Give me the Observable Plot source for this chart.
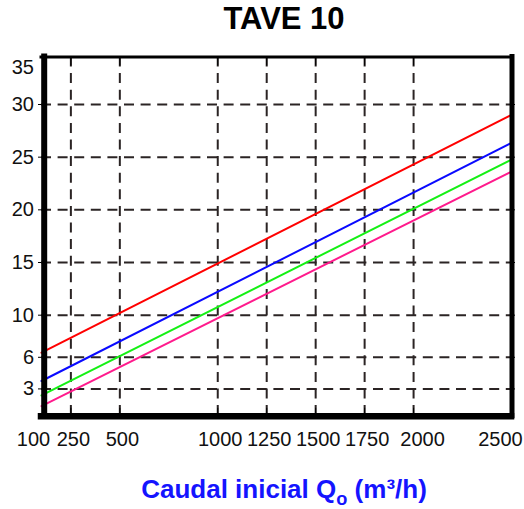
<!DOCTYPE html>
<html>
<head>
<meta charset="utf-8">
<script src="https://cdn.jsdelivr.net/npm/d3@7"></script>
<script src="https://cdn.jsdelivr.net/npm/@observablehq/plot@0.6"></script>
<style>
  html, body { margin: 0; padding: 0; background: #fff; }
  #wrap { width: 524px; font-family: "Liberation Sans", Arial, sans-serif; }
  #title { position: relative; height: 40px; }
  #title span { position: absolute; left: 284px; top: 17.5px; transform: translate(-50%, -50%);
    font-weight: bold; font-size: 31px; line-height: 1; color: #000; white-space: nowrap; }
  #caption { position: relative; height: 49px; }
  #caption span.main { position: absolute; left: 284px; top: 29px; transform: translate(-50%, -50%);
    font-weight: bold; font-size: 26px; line-height: 1; color: #1414ff; white-space: nowrap; }
  #caption .sub { font-size: 0.7em; position: relative; top: 0.4em; }
  #chart svg text { font-size: 20px; font-family: "Liberation Sans", Arial, sans-serif; }
</style>
</head>
<body>
<div id="wrap">
  <div id="title"><span>TAVE 10</span></div>
  <div id="chart"></div>
  <div id="caption"><span class="main">Caudal inicial Q<span class="sub">o</span> (m³/h)</span></div>
</div>
<script>
// ---- data ----
const xDomain = [100, 2500];
const yDomain = [0.4, 30, 36.4];
const xLabels = [100, 250, 500, 1000, 1250, 1500, 1750, 2000, 2500];
const xGrid = [250, 500, 1000, 1250, 1500, 1750, 2000];
const yLabels = [3, 6, 10, 15, 20, 25, 30, 35];
const yGrid = [3, 6, 10, 15, 20, 25, 30];
const qEnds = [100, 2500];
const curve1 = [6.44, 29.02];
const curve2 = [3.75, 26.36];
const curve3 = [2.38, 24.77];
const curve4 = [1.37, 23.63];
const seriesNames = ["curva 1", "curva 2", "curva 3", "curva 4"];
const seriesColors = ["#ff0000", "#0a0aff", "#14f014", "#ff1a8c"];

// ---- build table ----
const seriesVals = [curve1, curve2, curve3, curve4];
const rows = [];
seriesNames.forEach((s, i) => {
  qEnds.forEach((q, j) => rows.push({series: s, q, v: seriesVals[i][j]}));
});

const W = 524, H = 420;
const mTop = 16.5, mBottom = 44.2, mLeft = 41, mRight = 13;
const gridStyle = {stroke: "#2b2424", strokeWidth: 2, strokeDasharray: "10,6.6"};

const labelAxis = (vals, dx) => Plot.axisX(vals, {
  anchor: "bottom", tickSize: 0, tickPadding: 15.9, dx, fontSize: 20, fill: "#111",
  tickFormat: d => String(d), label: null
});

const chart = Plot.plot({
  width: W, height: H,
  marginTop: mTop, marginBottom: mBottom, marginLeft: mLeft, marginRight: mRight,
  style: {fontFamily: "'Liberation Sans', Arial, sans-serif", fontSize: "20px", color: "#111", background: "#fff", overflow: "visible"},
  x: {type: "linear", domain: xDomain, label: null},
  y: {type: "linear", domain: yDomain, range: [H - mBottom, 64, mTop], label: null},
  color: {type: "ordinal", domain: seriesNames, range: seriesColors},
  marks: [
    Plot.ruleY(yGrid, {y: d => d, ...gridStyle}),
    Plot.ruleX(xGrid, {x: d => d, ...gridStyle}),
    Plot.line(rows, {x: "q", y: "v", z: "series", stroke: "series", strokeWidth: 2}),
    // frame
    Plot.ruleX([xDomain[0]], {x: d => d, stroke: "#000", strokeWidth: 6, dx: 2.7, strokeLinecap: "square"}),
    Plot.ruleX([xDomain[1]], {x: d => d, stroke: "#000", strokeWidth: 5, dx: 0.5, strokeLinecap: "square"}),
    Plot.ruleY([yDomain[0]], {y: d => d, stroke: "#000", strokeWidth: 6.5, strokeLinecap: "square"}),
    Plot.ruleY([yDomain[yDomain.length - 1]], {y: d => d, stroke: "#000", strokeWidth: 3, strokeLinecap: "square"}),
    // ticks
    Plot.axisX(xGrid, {anchor: "top", tickSize: -8, fill: "none", stroke: "#000", label: null}),
    Plot.axisX(xGrid, {anchor: "bottom", tickSize: -8, fill: "none", stroke: "#000", label: null}),
    Plot.axisY(yGrid, {anchor: "left", tickSize: 3, fill: "none", stroke: "#000", label: null}),
    Plot.axisY(yGrid, {anchor: "right", tickSize: 3, fill: "none", stroke: "#000", label: null}),
    // labels
    Plot.axisY(yLabels, {anchor: "left", tickSize: 0, tickPadding: 7.5, fontSize: 20, fill: "#111", tickFormat: d => String(d), label: null}),
    labelAxis(xLabels.filter(d => d === 100), -8),
    labelAxis(xLabels.filter(d => d > 100 && d < 2000), 2.5),
    labelAxis(xLabels.filter(d => d === 2000), 9),
    labelAxis(xLabels.filter(d => d === 2500), -11)
  ]
});
document.getElementById("chart").appendChild(chart);
</script>
</body>
</html>
